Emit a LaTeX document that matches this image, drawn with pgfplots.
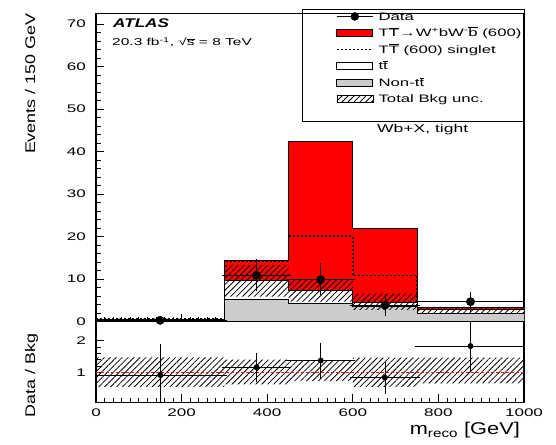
\documentclass[border=0pt]{standalone}
\usepackage{fontspec}
\setmainfont{Liberation Sans}[FakeStretch=1.55]
\newfontfamily\labfont{Liberation Sans}[FakeStretch=1.28]
\newfontfamily\atlasfont{Liberation Sans}[FakeStretch=1.36]
\usepackage{pgfplots}
\pgfplotsset{compat=1.18}
\usetikzlibrary{patterns.meta}
\definecolor{nontt}{RGB}{204,204,204}
\tikzset{hatch/.style={pattern={Lines[angle=45,distance=4.2pt,line width=0.8pt]},pattern color=black}}
\pgfplotsset{
  myaxis/.style={
    scale only axis, width=428pt, xmin=0, xmax=1000,
    anchor=south west,
    axis line style={line width=1.1pt},
    tick align=inside, xtick pos=bottom, ytick pos=left,
    major tick length=8pt, minor tick length=4.5pt,
    tick style={black, line width=0.8pt},
    /pgf/number format/assume math mode=true,
    /pgf/number format/1000 sep={},
    tick label style={font=\fontsize{11}{12}\selectfont},
    yticklabel style={anchor=east, inner sep=0pt, xshift=-10pt},
    xtick={0,200,...,1000}, minor x tick num=9,
    every axis y label/.style={rotate=90, anchor=base east},
  }
}
\begin{document}
\begin{tikzpicture}
\useasboundingbox (0,0) rectangle (556pt,444pt);
% ---------------- main panel ----------------
\begin{axis}[myaxis, at={(96pt,122.3pt)}, height=308.2pt,
  ymin=0, ymax=72.5, ytick={0,10,...,70}, minor y tick num=4,
  xticklabels={},
  ylabel={\labfont\fontsize{14}{16}\selectfont Events / 150 GeV},
  ylabel style={at={(rel axis cs:-0.1425,1.0114)}},
  legend style={at={(rel axis cs:0.5607,1.0171)}, anchor=north west,
    draw=none, fill=none, inner sep=0pt, outer sep=0pt, row sep=0pt, column sep=5pt,
    nodes={inner sep=0pt, text height=12.15pt, text depth=4.35pt,
      font=\fontsize{10.8}{12}\selectfont}},
  legend cell align=left,
]
% signal on top of background (stack)
\addplot[const plot, fill=red, draw=black, line width=0.8pt, mark=none, forget plot]
  coordinates {(0,0.6)(300,14.4)(450,42.3)(600,22.0)(750,3.4)(1000,3.4)} \closedcycle;
% ttbar (total background)
\addplot[const plot, fill=white, draw=black, line width=0.8pt, mark=none, forget plot]
  coordinates {(0,0.5)(300,9.6)(450,7.25)(600,4.5)(750,2.8)(1000,2.8)} \closedcycle;
% non-ttbar
\addplot[const plot, fill=nontt, draw=black, line width=0.8pt, mark=none, forget plot]
  coordinates {(0,0.3)(300,5.3)(450,4.2)(600,3.7)(750,2.0)(1000,2.0)} \closedcycle;
% total background uncertainty
\addplot[hatch, draw=none, mark=none, forget plot] coordinates {
  (0,0.7)(300,0.7)(300,13.3)(450,13.3)(450,9.85)(600,9.85)(600,6.6)(750,6.6)(750,3.5)(1000,3.5)
  (1000,2.0)(750,2.0)(750,2.8)(600,2.8)(600,4.7)(450,4.7)(450,5.9)(300,5.9)(300,0.3)(0,0.3)} -- cycle;
% singlet
\addplot[const plot, draw=black, line width=1.6pt, dash pattern=on 2pt off 2pt, mark=none, forget plot]
  coordinates {(0,0.6)(300,14.3)(450,20.1)(600,10.9)(750,3.3)(1000,3.3)};
% data
\addplot[only marks, mark=*, mark size=4.2pt, black, forget plot,
  error bars/.cd, x dir=both, x explicit, y dir=both, y explicit,
  error bar style={line width=0.8pt, black},
  error mark options={line width=0.8pt, mark size=2.5pt, black}]
  table[x=x, y=y, x error=ex, y error plus=ep, y error minus=em] {
x y ex ep em
150 0.33 150 0.4 0.33
375 10.9 75 3.3 3.0
525 9.9 75 3.3 3.1
675 3.9 75 2.0 1.9
875 4.7 125 1.8 1.9
};
\node[anchor=base west, inner sep=0pt, font=\atlasfont\fontsize{12.6}{14}\selectfont\bfseries\itshape]
  at (rel axis cs:0.0397,0.9552) {ATLAS};
\node[anchor=base west, inner sep=0pt, font=\fontsize{10}{12}\selectfont]
  at (rel axis cs:0.0374,0.8955) {20.3 fb\textsuperscript{-1}, √$\overline{\mbox{s}}$ = 8 TeV};
\node[anchor=base west, inner sep=0pt, font=\fontsize{11.3}{13}\selectfont]
  at (rel axis cs:0.6565,0.6123) {Wb+X, tight};
% legend
\addlegendimage{legend image code/.code={\draw[black,line width=0.8pt] (0pt,0pt)--(36pt,0pt); \fill[black] (18pt,0pt) circle (4pt);}}
\addlegendentry{Data}
\addlegendimage{legend image code/.code={\draw[black,fill=red,line width=0.6pt] (0pt,-3.5pt) rectangle (36pt,3.5pt);}}
\addlegendentry{T$\overline{\mbox{T}}$→W\textsuperscript{+}bW\textsuperscript{-}$\overline{\mbox{b}}$ (600)}
\addlegendimage{legend image code/.code={\draw[black,line width=1.6pt,dash pattern=on 2pt off 2pt] (0pt,0pt)--(36pt,0pt);}}
\addlegendentry{T$\overline{\mbox{T}}$ (600) singlet}
\addlegendimage{legend image code/.code={\draw[black,fill=white,line width=0.6pt] (0pt,-3.5pt) rectangle (36pt,3.5pt);}}
\addlegendentry{t$\overline{\mbox{t}}$}
\addlegendimage{legend image code/.code={\draw[black,fill=nontt,line width=0.6pt] (0pt,-3.5pt) rectangle (36pt,3.5pt);}}
\addlegendentry{Non-t$\overline{\mbox{t}}$}
\addlegendimage{legend image code/.code={\fill[hatch] (0pt,-3.5pt) rectangle (36pt,3.5pt);}}
\addlegendentry{Total Bkg unc.}
\end{axis}
% ---------------- ratio panel ----------------
\begin{axis}[myaxis, at={(96pt,41.7pt)}, height=80.6pt,
  ymin=0.05, ymax=2.6, ytick={1,2}, minor y tick num=4,
  xticklabel style={anchor=north, inner sep=0pt, yshift=-6.5pt},
  ylabel={\labfont\fontsize{14}{16}\selectfont Data / Bkg},
  ylabel style={at={(rel axis cs:-0.1425,0.897)}},
  xlabel={\labfont\fontsize{17}{19}\selectfont m\textsubscript{reco} [GeV]},
  every axis x label/.style={at={(rel axis cs:1,0)}, anchor=north east, inner sep=0pt, yshift=-19.7pt, xshift=-4pt},
]
\addplot[hatch, draw=none, mark=none] coordinates {
  (0,1.47)(300,1.47)(300,1.40)(450,1.40)(450,1.36)(600,1.36)(600,1.46)(750,1.46)(1000,1.46)
  (1000,0.65)(750,0.65)(750,0.54)(600,0.54)(600,0.72)(450,0.72)(450,0.62)(300,0.62)(300,0.54)(0,0.54)} -- cycle;
\addplot[red, line width=0.8pt, dash pattern=on 3pt off 2pt, mark=none]
  coordinates {(0,1)(1000,1)};
\addplot[only marks, mark=*, mark size=2.7pt, black,
  error bars/.cd, x dir=both, x explicit, y dir=both, y explicit,
  error bar style={line width=0.8pt, black},
  error mark options={line width=0.8pt, mark size=2.5pt, black}]
  table[x=x, y=y, x error=ex, y error plus=ep, y error minus=em] {
x y ex ep em
150 0.915 150 0.9 0.9
375 1.16 75 0.37 0.38
525 1.37 75 0.47 0.49
675 0.83 75 0.42 0.44
875 1.83 125 0.9 0.73
};
\end{axis}
\draw[line width=0.8pt] (302pt,434.7pt) rectangle (524pt,323pt);
\end{tikzpicture}
\end{document}
